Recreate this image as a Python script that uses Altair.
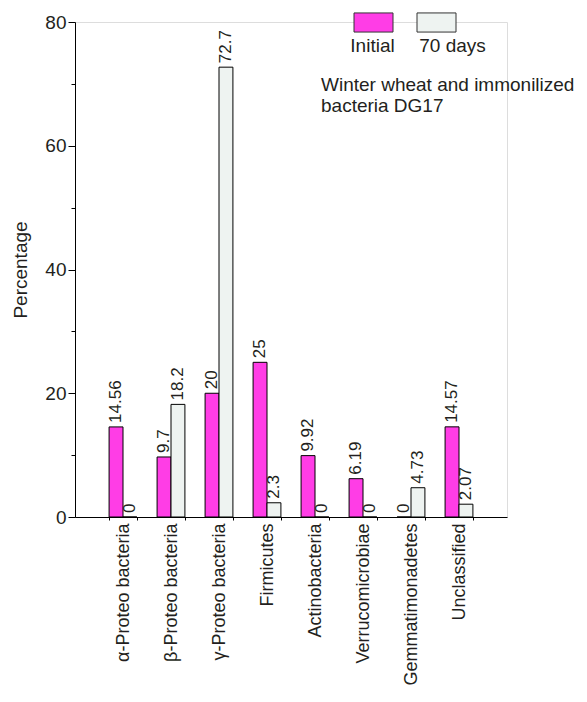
import altair as alt
import pandas as pd

categories = ["α-Proteo bacteria", "β-Proteo bacteria", "γ-Proteo bacteria", "Firmicutes",
              "Actinobacteria", "Verrucomicrobiae", "Gemmatimonadetes", "Unclassified"]
series = ["Initial", "70 days"]
initial = [14.56, 9.7, 20, 25, 9.92, 6.19, 0, 14.57]
days70 = [0, 18.2, 72.7, 2.3, 0, 0, 4.73, 2.07]
note_lines = ["Winter wheat and immonilized", "bacteria DG17"]
y_ticks = [0, 10, 20, 30, 40, 50, 60, 70, 80]

colors = ["#ff3de6", "#eef3f1"]
ink = "#231f20"
FONT = "Liberation Sans"

rows = []
for c, a, b in zip(categories, initial, days70):
    rows.append({"category": c, "series": "Initial", "value": a, "label": f"{a:g}"})
    rows.append({"category": c, "series": "70 days", "value": b, "label": f"{b:g}"})
df = pd.DataFrame(rows)

xscale = alt.Scale(domain=categories, paddingInner=0.42, paddingOuter=0.71)
offscale = alt.Scale(domain=series, paddingInner=0, paddingOuter=0)
yscale = alt.Scale(domain=[0, 80], nice=False)
cscale = alt.Scale(domain=series, range=colors)

bars = alt.Chart(df).mark_bar(stroke="black", strokeWidth=1, opacity=1).encode(
    x=alt.X("category:N", scale=xscale, sort=categories, title=None,
            axis=alt.Axis(labelAngle=270, labelAlign="right", labelBaseline="middle",
                          labelFontSize=18, labelColor=ink, labelPadding=3,
                          tickBand="extent", tickSize=3, tickColor="black", grid=False,
                          domainColor="black", labelFont=FONT)),
    xOffset=alt.XOffset("series:N", scale=offscale, sort=series),
    y=alt.Y("value:Q", scale=yscale, title="Percentage",
            axis=alt.Axis(values=y_ticks, grid=False,
                          labelExpr="datum.value % 20 == 0 ? datum.label : ''",
                          tickSize={"condition": {"test": "datum.value % 20 == 0", "value": 7}, "value": 4},
                          labelFontSize=19, labelColor=ink, labelPadding=2, labelFont=FONT,
                          titleFontSize=19, titleColor=ink, titleFontWeight="normal",
                          titleFont=FONT, titlePadding=14,
                          tickColor="black", domainColor="black")),
    color=alt.Color("series:N", scale=cscale, legend=None),
)

labels = alt.Chart(df).mark_text(angle=270, align="left", baseline="middle", dx=4,
                                 fontSize=17, color=ink, font=FONT).encode(
    x=alt.X("category:N", scale=xscale, sort=categories, axis=None),
    xOffset=alt.XOffset("series:N", scale=offscale, sort=series),
    y=alt.Y("value:Q", scale=yscale),
    text="label:N",
)

leg_df = pd.DataFrame({"series": series})
swatches = alt.Chart(leg_df).mark_point(
    shape="M-1,-0.49H1V0.49H-1Z", filled=True, size=1521, opacity=1,
    stroke="#333333", strokeWidth=1).encode(
    x=alt.X("series:N", sort=series, axis=None,
            scale=alt.Scale(type="point", domain=series, range=[298.5, 361.5], padding=0)),
    y=alt.value(0.5),
    color=alt.Color("series:N", scale=cscale, legend=None),
)
leg_text = alt.Chart(leg_df).mark_text(fontSize=19, color=ink, font=FONT,
                                       baseline="alphabetic", align="center").encode(
    x=alt.X("series:N", sort=series, axis=None,
            scale=alt.Scale(type="point", domain=series, range=[297.5, 377.5], padding=0)),
    y=alt.value(30),
    text="series:N",
)

note = alt.Chart(pd.DataFrame({"k": [0]})).mark_text(
    align="left", baseline="alphabetic", fontSize=19, lineHeight=21, color=ink, font=FONT).encode(
    x=alt.value(246), y=alt.value(69), text=alt.value(note_lines))

chart = alt.layer(bars, labels, swatches, leg_text, note).resolve_scale(
    x="independent"
).properties(
    width=432, height=495,
    padding={"left": 67, "top": 14, "right": 72, "bottom": 171},
    autosize=alt.AutoSizeParams(type="none"),
).configure_view(stroke="transparent", strokeWidth=0).configure_axis(grid=False).configure(background="white")

chart.save("out.html", embed_options={"renderer": "svg", "actions": False})
